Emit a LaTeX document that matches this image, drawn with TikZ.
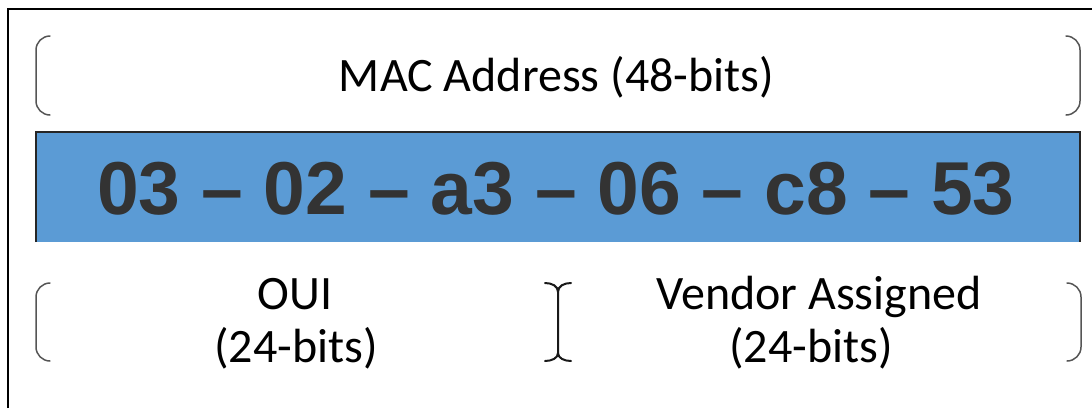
\documentclass[tikz,border=0pt]{standalone}
\usepackage{fontspec}
\setmainfont{Carlito}
\newfontfamily\numfont{Liberation Sans}
\definecolor{fieldblue}{HTML}{5B9BD5}
\definecolor{numgray}{HTML}{333333}
\definecolor{bracketgray}{HTML}{555555}
\begin{document}
\begin{tikzpicture}[x=1pt,y=-1pt,
  brk/.style={draw=bracketgray,line width=1.5pt,line cap=round},
  midbrk/.style={draw=black!90,line width=2pt,line cap=round},
  lbl/.style={font=\fontsize{48}{50}\selectfont,anchor=base,inner sep=0pt},
  sublbl/.style={font=\fontsize{48}{50}\selectfont,anchor=base,inner sep=0pt},
  bytes/.style={font=\numfont\bfseries\fontsize{75}{80}\selectfont,text=numgray,anchor=base,inner sep=0pt}]
\useasboundingbox (0,0) rectangle (1092,408);
\fill[white] (0,0) rectangle (1092,408);

% outer frame (left and top edges)
\draw[line width=2.5pt] (8,408) -- (8,9) -- (1092,9);

% upper bracket spanning the whole address
\draw[brk] (50,36) .. controls (42.3,36) and (36,42.3) .. (36,50) -- (36,101)
  .. controls (36,108.7) and (42.3,115) .. (50,115);
\draw[brk] (1066,36) .. controls (1073.7,36) and (1080,42.3) .. (1080,50) -- (1080,101)
  .. controls (1080,108.7) and (1073.7,115) .. (1066,115);
\node[lbl] (mac) at (556.5,91) {MAC Address (48-bits)};

% address field
\fill[fieldblue] (36,132) rectangle (1080,242);
\draw[line width=2pt,draw=black!85] (36,242) -- (36,132) -- (1080,132) -- (1080,242);
\node[bytes] (addr) at (556,214) {03 \textendash{} 02 \textendash{} a3 \textendash{} 06 \textendash{} c8 \textendash{} 53};

% lower brackets: OUI half and vendor half
\draw[brk] (50,283) .. controls (42.3,283) and (36,289.3) .. (36,297) -- (36,347)
  .. controls (36,354.7) and (42.3,361) .. (50,361);
\draw[brk] (1067,283) .. controls (1074.7,283) and (1081,289.3) .. (1081,297) -- (1081,347)
  .. controls (1081,354.7) and (1074.7,361) .. (1067,361);
\draw[midbrk] (545,283) .. controls (552,283) and (558,286) .. (558,292) -- (558,353)
  .. controls (558,358) and (552,361) .. (545,361);
\draw[midbrk] (571,283) .. controls (564,283) and (558,286) .. (558,292);
\draw[midbrk] (571,361) .. controls (564,361) and (558,358) .. (558,353);

\node[sublbl] (oui) at (295,309) {OUI};
\node[sublbl] (ouibits) at (296,362) {(24-bits)};
\node[sublbl] (vendor) at (819,309) {Vendor Assigned};
\node[sublbl] (vendorbits) at (811,362) {(24-bits)};
\end{tikzpicture}
\end{document}
